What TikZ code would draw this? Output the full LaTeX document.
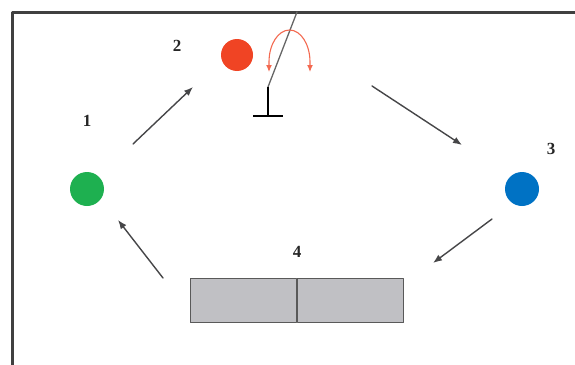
\documentclass[tikz,border=0pt]{standalone}
\usepackage{fontspec}
\setmainfont{Liberation Serif}
\usetikzlibrary{arrows.meta}
\definecolor{dotgreen}{RGB}{30,176,80}
\definecolor{dotred}{RGB}{240,68,36}
\definecolor{dotblue}{RGB}{0,114,196}
\definecolor{boxgray}{RGB}{192,192,196}
\definecolor{arrgray}{RGB}{70,70,72}
\tikzset{
  dot/.style={circle,inner sep=0pt,minimum size=34pt},
  lbl/.style={font=\fontsize{17}{17}\selectfont\bfseries,text=black!85},
  flow/.style={-{Latex[length=9pt,width=7pt]},line width=1.4pt,color=arrgray},
  bin/.style={draw=black!65,line width=1.2pt,fill=boxgray,minimum width=106pt,minimum height=44pt,inner sep=0pt}
}
\begin{document}
\begin{tikzpicture}[line cap=round,line join=round,x=1pt,y=-1pt]
\useasboundingbox (0,0) rectangle (575,364);
\begin{scope}
\clip (0,0) rectangle (575,364);
\draw[line width=2.6pt,color=black!75] (12.5,380) -- (12.5,12.5) -- (590,12.5);
\end{scope}

% stations
\node[dot,fill=dotgreen] (green) at (87,189) {};
\node[dot,fill=dotred,minimum size=32pt] (red) at (237,55) {};
\node[dot,fill=dotblue] (blue) at (522,189) {};
\node[bin,anchor=north east] (binl) at (297,278) {};
\node[bin,anchor=north west] (binr) at (297,278) {};

\node[lbl] (n1) at (87,121) {1};
\node[lbl] (n2) at (177,46) {2};
\node[lbl] (n3) at (551,149) {3};
\node[lbl] (n4) at (297,252) {4};

% flow arrows
\coordinate (a1) at (133,144); \coordinate (b1) at (193,87);
\coordinate (a2) at (372,86);  \coordinate (b2) at (462,145);
\coordinate (a3) at (492,219); \coordinate (b3) at (433,263);
\coordinate (a4) at (163,278); \coordinate (b4) at (118,220);
\draw[flow] (a1) -- (b1);
\draw[flow] (a2) -- (b2);
\draw[flow] (a3) -- (b3);
\draw[flow] (a4) -- (b4);

% lever
\coordinate (top) at (297,12);
\coordinate (knee) at (268,87);
\coordinate (foot) at (268,116);
\draw[line width=1.3pt,color=black!60] (top) -- (knee);
\draw[line width=2.6pt,line cap=butt] (knee) -- (foot);
\draw[line width=2.6pt,line cap=butt] (253,116) -- (283,116);

% swing
\draw[{Latex[length=7pt,width=6pt]}-{Latex[length=7pt,width=6pt]},line width=1.1pt,color=dotred!80]
  (269,72) -- (269,62) arc[start angle=180,end angle=0,x radius=20.5,y radius=-32] -- (310,72);
\end{tikzpicture}
\end{document}
